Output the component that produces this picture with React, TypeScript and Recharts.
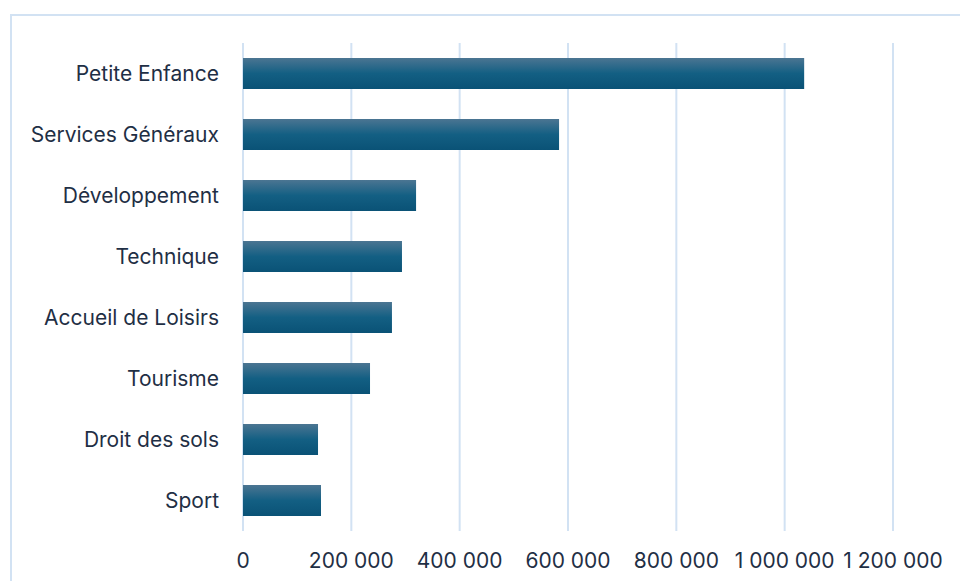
import { BarChart, Bar, XAxis, YAxis, CartesianGrid } from 'recharts'

const categories = [
  'Petite Enfance',
  'Services Généraux',
  'Développement',
  'Technique',
  'Accueil de Loisirs',
  'Tourisme',
  'Droit des sols',
  'Sport',
]

const amounts = [1036000, 583500, 319500, 293500, 275000, 234500, 138500, 144000]

const xTicks = [0, 200000, 400000, 600000, 800000, 1000000, 1200000]

const data = categories.map((name, i) => ({ name, value: amounts[i] }))

const TEXT = '#1f2f45'
const GRID = '#d2e2f3'
const FONT = 'Inter, "Noto Sans", sans-serif'

const fmt = (v: number) => String(v).replace(/\B(?=(\d{3})+(?!\d))/g, ' ')

export default function App() {
  return (
    <div
      style={{
        position: 'absolute',
        top: 0,
        left: 0,
        width: 960,
        height: 581,
        overflow: 'hidden',
        background: '#fff',
        fontFamily: FONT,
      }}
    >
      <div
        style={{
          position: 'absolute',
          left: 10,
          top: 14,
          width: 1000,
          height: 700,
          border: `2px solid ${GRID}`,
          boxSizing: 'border-box',
        }}
      />
      <BarChart
        width={960}
        height={581}
        data={data}
        layout="vertical"
        margin={{ top: 43, right: 67, left: 0, bottom: 0 }}
        style={{ position: 'absolute', top: 0, left: 0 }}
      >
        <defs>
          <linearGradient id="barFill" x1="0" y1="0" x2="0" y2="1">
            <stop offset="0%" stopColor="#4b7592" />
            <stop offset="50%" stopColor="#135f83" />
            <stop offset="100%" stopColor="#0a5276" />
          </linearGradient>
        </defs>
        <CartesianGrid horizontal={false} stroke={GRID} strokeWidth={2} />
        <XAxis
          type="number"
          domain={[0, 1200000]}
          ticks={xTicks}
          tickFormatter={fmt}
          axisLine={false}
          tickLine={false}
          tickSize={0}
          tickMargin={22}
          height={50}
          interval={0}
          tick={{ fill: TEXT, fontSize: 21, fontFamily: FONT }}
        />
        <YAxis
          type="category"
          dataKey="name"
          width={243}
          axisLine={false}
          tickLine={false}
          tickSize={0}
          tickMargin={24}
          interval={0}
          tick={{ fill: TEXT, fontSize: 21, fontFamily: FONT }}
        />
        <Bar dataKey="value" fill="url(#barFill)" barSize={31} isAnimationActive={false} />
      </BarChart>
    </div>
  )
}
